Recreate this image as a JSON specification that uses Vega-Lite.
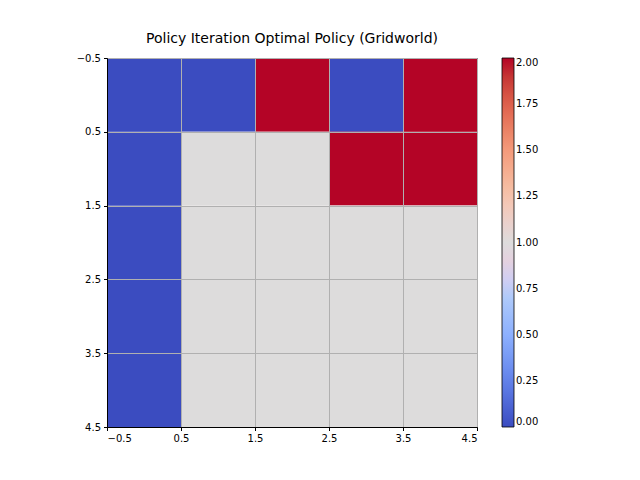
{
  "$schema": "https://vega.github.io/schema/vega-lite/v6.json",
  "width": 370,
  "height": 369,
  "autosize": {"type": "none"},
  "padding": {"left": 107, "top": 58, "right": 163, "bottom": 53},
  "title": {"text": "Policy Iteration Optimal Policy (Gridworld)", "font": "DejaVu Sans", "fontSize": 14, "fontWeight": "normal", "offset": 7, "color": "black"},
  "data": {
    "values": [
      {"col": 0, "row": 0, "value": 0}, {"col": 1, "row": 0, "value": 0}, {"col": 2, "row": 0, "value": 2}, {"col": 3, "row": 0, "value": 0}, {"col": 4, "row": 0, "value": 2},
      {"col": 0, "row": 1, "value": 0}, {"col": 1, "row": 1, "value": 1}, {"col": 2, "row": 1, "value": 1}, {"col": 3, "row": 1, "value": 2}, {"col": 4, "row": 1, "value": 2},
      {"col": 0, "row": 2, "value": 0}, {"col": 1, "row": 2, "value": 1}, {"col": 2, "row": 2, "value": 1}, {"col": 3, "row": 2, "value": 1}, {"col": 4, "row": 2, "value": 1},
      {"col": 0, "row": 3, "value": 0}, {"col": 1, "row": 3, "value": 1}, {"col": 2, "row": 3, "value": 1}, {"col": 3, "row": 3, "value": 1}, {"col": 4, "row": 3, "value": 1},
      {"col": 0, "row": 4, "value": 0}, {"col": 1, "row": 4, "value": 1}, {"col": 2, "row": 4, "value": 1}, {"col": 3, "row": 4, "value": 1}, {"col": 4, "row": 4, "value": 1}
    ]
  },
  "transform": [
    {"calculate": "datum.col - 0.5", "as": "x0"},
    {"calculate": "datum.col + 0.5", "as": "x1"},
    {"calculate": "datum.row - 0.5", "as": "y0"},
    {"calculate": "datum.row + 0.5", "as": "y1"}
  ],
  "mark": {"type": "rect", "strokeWidth": 0},
  "encoding": {
    "x": {"field": "x0", "type": "quantitative", "scale": {"domain": [-0.5, 4.5], "nice": false, "zero": false},
      "axis": {"title": null, "values": [-0.5, 0.5, 1.5, 2.5, 3.5, 4.5], "labelExpr": "replace(format(datum.value,'.1f'),'-','−')", "zindex": 1}},
    "x2": {"field": "x1"},
    "y": {"field": "y0", "type": "quantitative", "scale": {"domain": [4.5, -0.5], "nice": false, "zero": false},
      "axis": {"title": null, "values": [-0.5, 0.5, 1.5, 2.5, 3.5, 4.5], "labelExpr": "replace(format(datum.value,'.1f'),'-','−')", "zindex": 1, "labelBaseline": "middle"}},
    "y2": {"field": "y1"},
    "color": {"field": "value", "type": "quantitative",
      "scale": {"domain": [0, 2], "range": ["#3b4cc0", "#6282ea", "#8db0fe", "#b8d0f9", "#dddcdc", "#f5c4ac", "#f49a7b", "#de604d", "#b40426"]},
      "legend": {"title": null, "orient": "none", "legendX": 395, "legendY": 0, "gradientLength": 369, "gradientThickness": 12,
        "values": [0, 0.25, 0.5, 0.75, 1, 1.25, 1.5, 1.75, 2], "format": ".2f", "labelFontSize": 10, "labelFont": "DejaVu Sans", "labelColor": "black", "gradientStrokeColor": "black", "gradientStrokeWidth": 0.8, "labelOverlap": false}}
  },
  "config": {
    "view": {"stroke": "black"},
    "axis": {"labelFont": "DejaVu Sans", "labelFontSize": 10, "labelColor": "black", "domainColor": "black", "tickColor": "black", "gridColor": "#b0b0b0", "gridOpacity": 1, "grid": true, "labelPadding": 3, "tickSize": 3.5}
  }
}
